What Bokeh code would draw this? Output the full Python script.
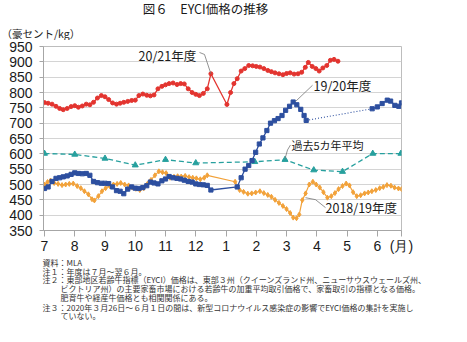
from bokeh.plotting import figure
from bokeh.models import Range1d, Label, FixedTicker
from bokeh.layouts import column
from bokeh.embed import file_html
from bokeh.resources import INLINE

# ---------------- data ----------------
# x = months since 1 July (0 = July ... 11 = June)
month_ticks = [0, 1, 2, 3, 4, 5, 6, 7, 8, 9, 10, 11]
tick_labels = ["7", "8", "9", "10", "11", "12", "1", "2", "3", "4", "5", "6"]
month_unit = "(月)"

fy2021_x = [0.00, 0.12, 0.25, 0.38, 0.50, 0.62, 0.75, 0.88, 1.00, 1.12, 1.25, 1.38, 1.50, 1.62,
            1.75, 1.88, 2.00, 2.12, 2.25, 2.38, 2.50, 2.62, 2.75, 2.88, 3.00, 3.12, 3.25, 3.38,
            3.50, 3.62, 3.75, 3.88, 4.00, 4.12, 4.25, 4.38, 4.50, 4.62, 4.75, 4.88, 5.00, 5.12,
            5.25, 5.38, 5.50, 6.03, 6.15, 6.26, 6.37, 6.50, 6.62, 6.75, 6.88, 7.00, 7.12, 7.25,
            7.38, 7.50, 7.62, 7.75, 7.88, 8.00, 8.12, 8.25, 8.38, 8.50, 8.62, 8.72, 8.85, 8.97,
            9.08, 9.20, 9.33, 9.45, 9.57, 9.70]
fy2021_y = [767, 765, 762, 755, 748, 744, 748, 754, 757, 752, 756, 762, 760, 768,
            782, 790, 786, 777, 766, 762, 765, 768, 771, 774, 775, 790, 795, 791,
            789, 792, 812, 820, 825, 829, 831, 826, 829, 828, 812, 800, 794, 790,
            797, 812, 861, 761, 800, 829, 845, 870, 878, 888, 887, 885, 883, 878,
            872, 868, 864, 861, 858, 862, 864, 860, 861, 866, 882, 898, 885, 878,
            870, 880, 888, 905, 908, 902]

fy1920_x = [0.00, 0.12, 0.25, 0.38, 0.50, 0.62, 0.75, 0.88, 1.00, 1.12, 1.25, 1.38, 1.50, 1.62,
            1.75, 1.88, 2.00, 2.12, 2.25, 2.38, 2.50, 2.62, 2.75, 2.88, 3.00, 3.12, 3.25, 3.38,
            3.50, 3.62, 3.75, 3.88, 4.00, 4.12, 4.25, 4.38, 4.50, 4.62, 4.75, 4.88, 5.00, 5.12,
            5.25, 5.38, 5.50, 6.37, 6.50, 6.63, 6.75, 6.86, 6.98, 7.10, 7.22, 7.35, 7.47, 7.60,
            7.72, 7.85, 7.97, 8.10, 8.22, 8.34, 8.47, 8.58, 8.65, 10.83, 11.00, 11.16, 11.33,
            11.44, 11.58, 11.71, 11.80]
fy1920_y = [487, 492, 510, 520, 522, 525, 528, 533, 538, 536, 535, 536, 530, 510,
            506, 504, 504, 503, 492, 480, 478, 470, 485, 492, 488, 487, 490, 496,
            508, 505, 502, 512, 518, 526, 522, 520, 518, 514, 510, 508, 502, 500,
            499, 497, 482, 492, 522, 550, 562, 578, 605, 632, 652, 676, 700, 708,
            715, 725, 742, 755, 769, 760, 745, 725, 709, 747, 753, 764, 775,
            772, 758, 755, 766]

fy1819_x = [0.00, 0.10, 0.20, 0.32, 0.45, 0.58, 0.70, 0.82, 0.95, 1.08, 1.20, 1.32, 1.45, 1.57,
            1.65, 1.78, 1.90, 2.02, 2.15, 2.28, 2.40, 2.52, 2.65, 2.78, 2.90, 3.02, 3.15, 3.28,
            3.40, 3.52, 3.65, 3.78, 3.90, 4.02, 4.15, 4.28, 4.40, 4.52, 4.65, 4.78, 4.90, 5.02,
            5.15, 5.28, 5.38, 6.30, 6.45, 6.58, 6.72, 6.85, 6.98, 7.12, 7.25, 7.38, 7.50, 7.62,
            7.75, 7.88, 8.00, 8.12, 8.22, 8.33, 8.42, 8.52, 8.63, 8.75, 8.87, 8.98, 9.10, 9.22,
            9.35, 9.48, 9.60, 9.72, 9.85, 9.97, 10.08, 10.20, 10.32, 10.45, 10.58, 10.70, 10.82,
            10.95, 11.08, 11.20, 11.32, 11.45, 11.57, 11.70, 11.80]
fy1819_y = [500, 508, 513, 505, 502, 498, 500, 502, 503, 495, 488, 478, 468, 452,
            448, 462, 478, 488, 495, 500, 502, 505, 500, 497, 490, 486, 482, 488,
            502, 515, 530, 543, 540, 537, 522, 525, 527, 526, 528, 524, 522, 520,
            517, 522, 530, 509, 482, 476, 470, 471, 474, 478, 472, 466, 460, 450,
            440, 430, 420, 407, 392, 390, 402, 449, 471, 500, 509, 500, 490, 475,
            457, 462, 472, 485, 495, 503, 497, 475, 462, 465, 471, 474, 478,
            482, 488, 492, 498, 496, 490, 487, 485]

avg5_x = [0, 1, 2, 3, 4, 5, 6.95, 7.95, 8.9, 9.85, 10.85, 11.78]
avg5_y = [601, 598, 585, 563, 581, 570, 574, 581, 547, 542, 601, 601]

RED, BLUE, ORANGE, TEAL = "#e3342f", "#2d4f9f", "#f2a23a", "#27a09e"
JP = "Noto Sans CJK JP"
TXT = "#1a1a1a"

# ---------------- layout (page px) ----------------
W = 467
HEAD_H = 40            # header strip: y 0..40
CH_TOP = 6             # chart figure starts at y=40, frame top at 46
FRAME_H = 185          # frame 46..231
CH_BOT = 25            # bottom axis strip 231..256
NOTE_H = 342 - HEAD_H - (CH_TOP + FRAME_H + CH_BOT)
L, R = 43, 401
XMIN, XMAX = -0.033, 11.80
YMIN, YMAX = 350, 950
T, B = HEAD_H + CH_TOP, HEAD_H + CH_TOP + FRAME_H


def px2x(px):
    return XMIN + (px - L) * (XMAX - XMIN) / (R - L)


def px2y(py):
    return YMIN + (B - py) * (YMAX - YMIN) / (B - T)


def blank(height, y0):
    f = figure(width=W, height=height, x_range=Range1d(0, W), y_range=Range1d(y0 + height, y0),
               output_backend="svg", toolbar_location=None, tools="",
               x_axis_location=None, y_axis_location=None, frame_align=False,
               min_border=0, min_border_left=0, min_border_right=0,
               min_border_top=0, min_border_bottom=0)
    f.grid.visible = False
    f.outline_line_color = None
    f.background_fill_color = "white"
    f.border_fill_color = "white"
    return f


def put(fig, x, y, text, size, align="left", color=TXT, font=JP):
    fig.add_layout(Label(x=x, y=y, text=text, text_font=font, text_font_size=size,
                         text_align=align, text_baseline="middle", text_color=color))


# header
head = blank(HEAD_H, 0)
put(head, 205, 8, "図６　EYCI価格の推移", "12.5px", align="center")
put(head, 1, 33, "（豪セント/kg）", "10.5px")

# chart
p = figure(width=W, height=CH_TOP + FRAME_H + CH_BOT,
           x_range=Range1d(XMIN, XMAX), y_range=Range1d(YMIN, YMAX),
           output_backend="svg", toolbar_location=None, tools="", frame_align=False,
           min_border_left=L, min_border_right=W - R,
           min_border_top=CH_TOP, min_border_bottom=CH_BOT)
p.background_fill_color = "white"
p.border_fill_color = "white"
p.outline_line_color = "#bdbdbd"
p.xgrid.visible = False
p.ygrid.grid_line_color = "#d4d4d4"
p.ygrid.grid_line_width = 1

x_ticks = month_ticks + [XMAX]
p.xaxis.ticker = FixedTicker(ticks=x_ticks)
p.xaxis.major_label_overrides = dict(zip(x_ticks, tick_labels + [month_unit]))
p.yaxis.ticker = FixedTicker(ticks=list(range(350, 951, 50)))
for ax in (p.xaxis, p.yaxis):
    ax.axis_line_color = "#a6a6a6"
    ax.major_tick_line_color = "#a6a6a6"
    ax.minor_tick_line_color = None
    ax.major_tick_in = 0
    ax.major_label_text_font = "Liberation Sans"
    ax.major_label_text_font_size = "14px"
    ax.major_label_text_color = TXT
p.xaxis.major_tick_out = 6
p.xaxis.major_label_standoff = 1
p.yaxis.major_tick_out = 4
p.yaxis.major_label_standoff = 7

# 5-year average
p.line(avg5_x, avg5_y, color=TEAL, line_width=1.3, line_dash="5 3")
p.scatter(avg5_x, avg5_y, marker="triangle", size=6, color=TEAL)

# 2018/19
p.line(fy1819_x, fy1819_y, color=ORANGE, line_width=1.2)
p.scatter(fy1819_x, fy1819_y, marker="diamond", size=5, color=ORANGE)

# 2019/20 with COVID gap dotted
gap = next(i for i in range(1, len(fy1920_x)) if fy1920_x[i] - fy1920_x[i - 1] > 1.5)
p.line(fy1920_x[:gap], fy1920_y[:gap], color=BLUE, line_width=1.3)
p.line(fy1920_x[gap:], fy1920_y[gap:], color=BLUE, line_width=1.3)
p.line(fy1920_x[gap - 1:gap + 1], fy1920_y[gap - 1:gap + 1], color=BLUE, line_width=1.1,
       line_dash="1 2")
p.scatter(fy1920_x, fy1920_y, marker="square", size=4.2, color=BLUE)

# 2020/21
p.line(fy2021_x, fy2021_y, color=RED, line_width=1.3)
p.scatter(fy2021_x, fy2021_y, marker="circle", size=4, color=RED)

# leaders
LEAD = "#777777"
i_spike = max(range(len(fy2021_x)), key=lambda i: fy2021_y[i] if fy2021_x[i] < 6 else 0)
p.line([px2x(199), px2x(204), fy2021_x[i_spike]], [px2y(52), px2y(54), fy2021_y[i_spike]],
       color=LEAD, line_width=0.8)
i_peak = max(range(gap), key=lambda i: fy1920_y[i])
p.line([px2x(312), fy1920_x[i_peak] + 0.08], [px2y(85), fy1920_y[i_peak] + 2],
       color=LEAD, line_width=0.8)
p.line([px2x(290), px2x(287), avg5_x[7]], [px2y(145), px2y(150), avg5_y[7] + 3],
       color=LEAD, line_width=0.8)
p.line([px2x(305), px2x(315), px2x(325)], [px2y(198), px2y(200), px2y(208)],
       color=LEAD, line_width=0.8)

put(p, px2x(138), px2y(55), "20/21年度", "12.5px")
put(p, px2x(313), px2y(85), "19/20年度", "12.5px")
put(p, px2x(291), px2y(145), "過去5カ年平均", "11px")
put(p, px2x(325), px2y(208), "2018/19年度", "12.5px")

# notes
notes = blank(NOTE_H, 342 - NOTE_H)
note_lines = [
    (42, 262, "資料：MLA"),
    (42, 270.5, "注１：年度は７月～翌６月。"),
    (42, 279, "注２：東部地区若齢牛指標（EYCI）価格は、東部３州（クイーンズランド州、ニューサウスウェールズ州、"),
    (60, 288, "ビクトリア州）の主要家畜市場における若齢牛の加重平均取引価格で、家畜取引の指標となる価格。"),
    (60, 297, "肥育牛や経産牛価格とも相関関係にある。"),
    (42, 306.5, "注３：2020年３月26日～６月１日の間は、新型コロナウイルス感染症の影響でEYCI価格の集計を実施し"),
    (60, 315, "ていない。"),
]
for nx, ny, nt in note_lines:
    put(notes, nx, ny, nt, "8px", color="#333333")

layout = column(head, p, notes, spacing=0)
open("out.html", "w").write(file_html(layout, INLINE))
